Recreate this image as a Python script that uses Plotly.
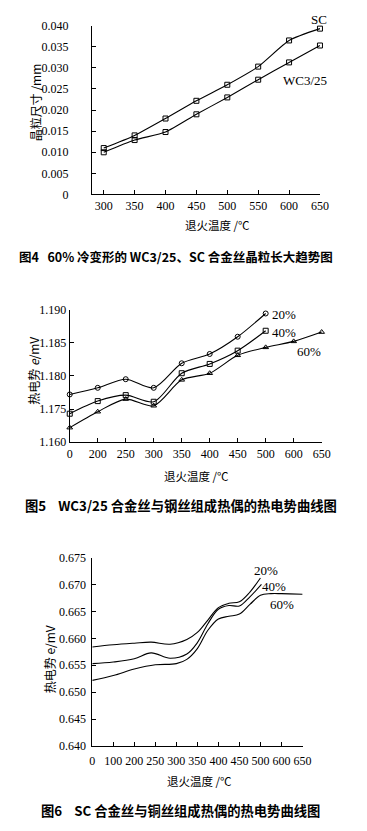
import numpy as np
import plotly.graph_objects as go

# ---------------- Data ----------------
# Fig 4: grain size vs annealing temperature
f4_temps = [300, 350, 400, 450, 500, 550, 600, 650]
f4_sc = [0.0110, 0.0140, 0.0180, 0.0222, 0.0260, 0.0303, 0.0365, 0.0393]
f4_wc = [0.0100, 0.0129, 0.0148, 0.0190, 0.0230, 0.0272, 0.0313, 0.0353]

# Fig 5: thermo-EMF of WC3/25 (category axis)
f5_cats = ["0", "200", "250", "300", "350", "400", "450", "500", "600", "650"]
f5_20 = [1.1772, 1.1782, 1.1795, 1.1782, 1.1819, 1.1833, 1.1859, 1.1894]
f5_40 = [1.1743, 1.1762, 1.1771, 1.1761, 1.1804, 1.1818, 1.1838, 1.1868]
f5_60 = [1.1722, 1.1746, 1.1765, 1.1755, 1.1794, 1.1804, 1.1831, 1.1843, 1.1852, 1.1866]
f5_ytickvals = [1.170, 1.175, 1.180, 1.185, 1.190]
f5_yticktext = ["1.160", "1.175", "1.180", "1.185", "1.190"]

# Fig 6: thermo-EMF of SC (axis ticks unevenly valued but evenly spaced)
f6_ticks = [0, 100, 200, 250, 300, 350, 400, 450, 500, 600, 650]
f6_t20 = [0, 100, 200, 240, 285, 325, 350, 375, 400, 425, 450, 475, 500]
f6_v20 = [0.6584, 0.6588, 0.6591, 0.6593, 0.6589, 0.6598, 0.6611, 0.6634, 0.6657, 0.6665, 0.6668, 0.6686, 0.6712]
f6_t40 = [0, 100, 200, 240, 285, 325, 350, 375, 400, 425, 450, 475, 505]
f6_v40 = [0.6553, 0.6556, 0.6562, 0.6573, 0.6563, 0.6571, 0.6592, 0.6627, 0.6654, 0.6661, 0.6660, 0.6677, 0.6700]
f6_t60 = [0, 100, 200, 250, 300, 325, 350, 375, 400, 425, 450, 475, 500, 550, 600, 650]
f6_v60 = [0.6522, 0.6531, 0.6543, 0.6551, 0.6553, 0.6561, 0.6581, 0.6615, 0.6636, 0.6641, 0.6645, 0.6663, 0.6680, 0.6683, 0.6683, 0.6682]

# ---------------- Layout helpers ----------------
W, H = 367, 831


def px(x):
    return x / W


def py(y):
    return 1 - y / H


f6_pos = list(range(len(f6_ticks)))


def f6_map(ts):
    return np.interp(ts, f6_ticks, f6_pos)


SERIF = "Liberation Serif, Times New Roman, serif"
CJK = "Noto Sans CJK SC, sans-serif"
LINE = dict(color="black", width=1.1)

fig = go.Figure()

# Fig 4
for vals in (f4_sc, f4_wc):
    fig.add_trace(go.Scatter(x=f4_temps, y=vals, mode="lines+markers",
                             line=dict(**LINE, shape="spline", smoothing=0.6),
                             marker=dict(symbol="square-open", size=5, color="black", line=dict(width=1)),
                             xaxis="x", yaxis="y", cliponaxis=False, showlegend=False))

# Fig 5
for vals, sym in [(f5_20, "circle-open"), (f5_40, "square-open"), (f5_60, "triangle-up-open")]:
    fig.add_trace(go.Scatter(x=f5_cats[:len(vals)], y=vals, mode="lines+markers",
                             line=dict(**LINE, shape="spline", smoothing=0.8),
                             marker=dict(symbol=sym, size=5, color="black", line=dict(width=1)),
                             xaxis="x2", yaxis="y2", cliponaxis=False, showlegend=False))

# Fig 6
for ts, vs in [(f6_t20, f6_v20), (f6_t40, f6_v40), (f6_t60, f6_v60)]:
    fig.add_trace(go.Scatter(x=f6_map(ts), y=vs, mode="lines",
                             line=dict(**LINE, shape="spline", smoothing=1.0),
                             xaxis="x3", yaxis="y3", cliponaxis=False, showlegend=False))

axis_common = dict(showline=True, linecolor="black", linewidth=1, ticks="inside", ticklen=4,
                   tickcolor="black", showgrid=False, zeroline=False,
                   tickfont=dict(family=SERIF, size=12, color="black"))

fig.update_layout(
    width=W, height=H, margin=dict(l=0, r=0, t=0, b=0),
    paper_bgcolor="white", plot_bgcolor="white", hovermode=False,
    xaxis=dict(**axis_common, domain=[px(92), px(328)], range=[281, 650.5], tickvals=f4_temps,
               anchor="y", ticklabelstandoff=0),
    yaxis=dict(**axis_common, domain=[py(190.7), py(19)], range=[0, 0.040],
               tickvals=[0, 0.005, 0.010, 0.015, 0.020, 0.025, 0.030, 0.035, 0.040],
               ticktext=["0", "0.005", "0.010", "0.015", "0.020", "0.025", "0.030", "0.035", "0.040"],
               anchor="x", ticklabelstandoff=20),
    xaxis2=dict(**axis_common, domain=[px(69), px(330)], type="category", categoryorder="array",
                categoryarray=f5_cats, range=[0, 9.02], anchor="y2", ticklabelstandoff=0),
    yaxis2=dict(**axis_common, domain=[py(442.7), py(307.7)], range=[1.170, 1.190],
                tickvals=f5_ytickvals, ticktext=f5_yticktext, anchor="x2", ticklabelstandoff=0),
    xaxis3=dict(**axis_common, domain=[px(92.3), px(310)], range=[0, 10.02], tickvals=f6_pos,
                ticktext=[str(t) for t in f6_ticks], anchor="y3", ticklabelstandoff=4),
    yaxis3=dict(**axis_common, domain=[py(751.7), py(560)], range=[0.640, 0.675],
                tickvals=[0.640, 0.645, 0.650, 0.655, 0.660, 0.665, 0.670, 0.675],
                ticktext=["0.640", "0.645", "0.650", "0.655", "0.660", "0.665", "0.670", "0.675"],
                anchor="x3", ticklabelstandoff=3),
)


def ann(text, x, y, size=13, family=SERIF, angle=0, bold=False):
    if bold:
        text = "<b>" + text + "</b>"
    fig.add_annotation(text=text, x=px(x), y=py(y), xref="paper", yref="paper", showarrow=False,
                       xanchor="center", yanchor="middle", textangle=angle,
                       font=dict(family=family, size=size, color="black"))


# series labels
ann("SC", 327, 13)
ann("WC3/25", 312, 75)
ann("20%", 290, 313)
ann("40%", 291, 331)
ann("60%", 316, 350)
ann("20%", 272, 573)
ann("40%", 280, 589)
ann("60%", 288, 608)

# axis titles
ann("晶粒尺寸 /mm", 33, 97, size=12, family=CJK, angle=-90)
ann("退火温度 /℃", 222, 222, size=11.5, family=CJK)
ann("热电势 <i>e</i>/mV", 32, 370, size=12, family=CJK, angle=-90)
ann("退火温度 /℃", 200, 477, size=11.5, family=CJK)
ann("热电势 e/mV", 48, 663, size=12, family=CJK, angle=-90)
ann("退火温度 /℃", 203, 787, size=11.5, family=CJK)

# captions
ann("图4   60% 冷变形的 WC3/25、SC 合金丝晶粒长大趋势图", 179, 254, size=12.5, family=CJK, bold=True)
ann("图5    WC3/25 合金丝与钢丝组成热偶的热电势曲线图", 184, 507, size=13.3, family=CJK, bold=True)
ann("图6    SC 合金丝与铜丝组成热偶的热电势曲线图", 183, 817, size=13.3, family=CJK, bold=True)

fig.write_html(
    "out.html",
    config={"displayModeBar": False, "staticPlot": True},
    post_script="document.body.style.margin='0';document.body.style.padding='0';"
                "document.documentElement.style.overflow='hidden';",
)
